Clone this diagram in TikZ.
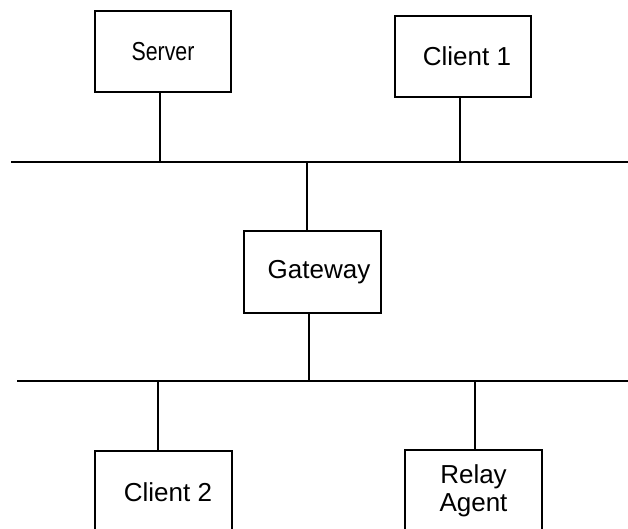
\documentclass[tikz,border=0pt]{standalone}
\usepackage{fontspec}
\setmainfont{Liberation Sans}
\newfontfamily\narrowfont[FakeStretch=0.82]{Liberation Sans}
\begin{document}
\begin{tikzpicture}[x=1pt,y=-1pt,
  line width=1.4pt,
  box/.style={draw, rectangle, minimum width=136pt, minimum height=81pt,
    inner sep=0pt, align=center, font=\fontsize{26}{28}\selectfont},
  wire/.style={draw, line width=1.4pt}]
\useasboundingbox (0,0) rectangle (628,529);
\clip (0,0) rectangle (628,529);

% hosts
\node[box, font=\narrowfont\fontsize{26}{28}\selectfont] (server) at (163,51.5) {Server};
\node[box] (client1) at (463,56.5) {\kern8pt Client 1};
\node[box, minimum width=137pt, minimum height=82pt] (gateway) at (312.5,272) {\kern13pt Gateway};
\node[box, minimum width=137pt, minimum height=82pt] (client2) at (163.5,492) {\kern9pt Client 2};
\node[box, minimum width=137pt, minimum height=82pt] (relay) at (473.5,491) {Relay\\Agent};

% network segments
\coordinate (upperL) at (11,162);
\coordinate (upperR) at (628,162);
\coordinate (lowerL) at (17,381);
\coordinate (lowerR) at (628,381);
\draw[wire] (upperL) -- (upperR);
\draw[wire] (lowerL) -- (lowerR);

% drops to the segments
\draw[wire] ([xshift=-3pt]server.south) -- ([xshift=-3pt]server.south |- upperL);
\draw[wire] ([xshift=-3pt]client1.south) -- ([xshift=-3pt]client1.south |- upperL);
\draw[wire] ([xshift=-5.5pt]gateway.north) -- ([xshift=-5.5pt]gateway.north |- upperL);
\draw[wire] ([xshift=-3.5pt]gateway.south) -- ([xshift=-3.5pt]gateway.south |- lowerL);
\draw[wire] ([xshift=-5.5pt]client2.north) -- ([xshift=-5.5pt]client2.north |- lowerL);
\draw[wire] ([xshift=1.5pt]relay.north) -- ([xshift=1.5pt]relay.north |- lowerL);
\end{tikzpicture}
\end{document}
